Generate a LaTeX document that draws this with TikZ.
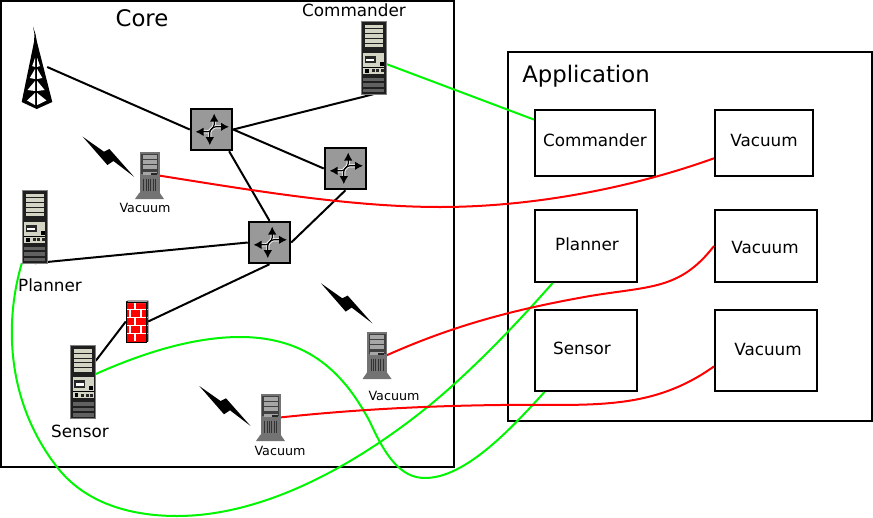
\documentclass[tikz,border=0pt]{standalone}
\usepackage{fontspec}
\setmainfont{DejaVu Sans}
\usetikzlibrary{arrows.meta}

\definecolor{linkgreen}{RGB}{0,245,0}
\definecolor{linkred}{RGB}{255,0,0}
\definecolor{panel}{RGB}{212,212,196}
\definecolor{routergray}{RGB}{153,153,153}

\tikzset{
    frame/.style={draw=black,line width=2pt,fill=none},
    link/.style={draw=black,line width=2pt},
    greenlink/.style={draw=linkgreen,line width=2pt},
    redlink/.style={draw=linkred,line width=2pt},
    bigsrv/.style={inner sep=0pt,minimum width=25pt,minimum height=73pt},
    smallsrv/.style={inner sep=0pt,minimum width=18pt,minimum height=47pt},
    routerbox/.style={inner sep=0pt,minimum size=41pt,draw=black,line width=2.5pt,fill=routergray},
    masttext/.style={inner sep=0pt,font=\fontsize{16.8}{20}\selectfont},
    bigtext/.style={inner sep=0pt,font=\fontsize{22.8}{26}\selectfont},
    smalltext/.style={inner sep=0pt,font=\fontsize{12.7}{15}\selectfont},
    bigserver/.pic={
        \fill[black!88] (-12.5,-36.5) rectangle (12.5,36.5);
        \draw[black!50,line width=.6pt] (-12.5,-36.5) rectangle (12.5,36.5);
        \foreach \y in {-33,-28.2,-23.4,-18.6,-13.8}
            \fill[panel] (-9,\y) rectangle (9,\y+3.7);
        \fill[panel] (-10.5,-5) rectangle (10.5,16);
        \fill[black!85] (-9,-2) rectangle (2,5.5);
        \fill[white] (-7.5,1) rectangle (.5,3.5);
        \fill[black] (6,4) rectangle (10,8);
        \fill[black] (-10.5,9) rectangle (10.5,10);
        \fill[black] (-8.5,11) rectangle (-5,15);
        \foreach \x in {-2,2.5,7}
            \fill[black!85] (\x,11.5) rectangle (\x+3,14.5);
        \foreach \y in {20,25.5,31}
            \fill[black!62] (-10.5,\y) rectangle (10.5,\y+3.5);
    },
    smallserver/.pic={
        \fill[black!55] (-10,17) -- (10,17) -- (14.5,23.5) -- (-14.5,23.5) -- cycle;
        \fill[black!55] (-10,-23.5) rectangle (10,17);
        \fill[black!75] (-8.5,-22) rectangle (8.5,-2);
        \foreach \y in {-21,-15.7,-10.4}
            \fill[black!35] (-7,\y) rectangle (7,\y+4);
        \fill[black!35] (-7,-3.5) rectangle (7,-.5);
        \fill[black!85] (1,-3) rectangle (7,-.5);
        \foreach \x in {-6,-3.6,...,6.5}
            \draw[black!80,line width=.7pt] (\x,3) -- (\x,15);
    },
    firewall/.pic={
        \fill[red!75!black] (7,-20.5) -- (11,-20.5) -- (11,20.5) -- (7,20.5) -- cycle;
        \fill[linkred] (-11,-18.5) rectangle (9,20.5);
        \fill[white] (-11,-20.5) -- (-9,-20.5) -- (-7,-20.5) -- (11,-20.5) -- (9,-18.5) -- (-11,-18.5) -- cycle;
        \foreach \y in {-12,-4,4,12}
            \draw[white,line width=1.3pt] (-11,\y) -- (11,\y);
        \foreach \y/\x in {-15/-2,-8/-7,-8/4,0/-2,8/-7,8/4,16/-2}
            \draw[white,line width=1.3pt] (\x,\y-3.5) -- (\x,\y+3.5);
        \draw[black,line width=.8pt] (-11,-19.5) rectangle (9,20.5);
        \draw[black,line width=.8pt] (-11,-19.5) -- (-9,-20.5) -- (11,-20.5) -- (11,19.5) -- (9,20.5);
    },
    router/.pic={
        \draw[white,line width=3pt] (2.7,-9) -- (2.7,-5) .. controls (2.7,-1) and (-1.7,-1) .. (-1.7,3) -- (-1.7,9);
        \draw[white,line width=3pt] (-9,2.3) -- (-4,2.3) .. controls (0,2.3) and (0,-2.7) .. (4,-2.7) -- (10,-2.7);
        \draw[black,line width=1.2pt,{Latex[length=8pt,width=8.5pt]}-{Latex[length=8pt,width=8.5pt]}]
            (2.7,-16) -- (2.7,-5) .. controls (2.7,-1) and (-1.7,-1) .. (-1.7,3) -- (-1.7,15.7);
        \draw[black,line width=1.2pt,{Latex[length=8pt,width=8.5pt]}-{Latex[length=8pt,width=8.5pt]}]
            (-16,2.3) -- (-4,2.3) .. controls (0,2.3) and (0,-2.7) .. (4,-2.7) -- (17.5,-2.7);
    },
    bolt/.pic={
        \fill[black] (0,0) -- (21.3,15) -- (26.7,12.3) -- (51.3,40) -- (30.7,24.3) -- (24.7,28.3) -- cycle;
    },
    tower/.pic={
        \fill[black] (-3,-40.5) -- (-.5,-33) -- (1,-25) -- (16.3,35) -- (.7,42) -- (-14.3,35) -- (-2,-25) -- (-1.5,-33) -- cycle;
        \foreach \a/\b/\w in {-9/0/2.8,2/12/5.2,14/24/7.5}{
            \fill[white] (1.2,\a) -- (1.2+\w,\b-1) -- (1.2,\b) -- cycle;
            \fill[white] (-1,\a) -- (-1-\w,\b-1) -- (-1,\b) -- cycle;
        }
        \fill[white] (1.2,26) -- (10.5,33.5) -- (1.2,38) -- cycle;
        \fill[white] (-1,26) -- (-9,33.5) -- (-1,38) -- cycle;
    },
}

\begin{document}
\begin{tikzpicture}[x=1pt,y=-1pt]
    \useasboundingbox (0,0) rectangle (873,517);

    % the two frames
    \node[frame,inner sep=0pt,minimum width=453pt,minimum height=466pt] (core) at (227.5,234) {};
    \node[frame,inner sep=0pt,minimum width=364pt,minimum height=369pt] (application) at (690,236.5) {};
    \node[bigtext] (coretitle) at (142,18) {Core};
    \node[bigtext] (apptitle) at (586,76) {Application};

    % boxes of the application
    \node[frame,inner sep=0pt,minimum width=120pt,minimum height=66pt] (commanderbox) at (595,143) {};
    \node[frame,inner sep=0pt,minimum width=98pt,minimum height=66pt] (vacuumboxa) at (764,143) {};
    \node[frame,inner sep=0pt,minimum width=102pt,minimum height=72pt] (plannerbox) at (586,246) {};
    \node[frame,inner sep=0pt,minimum width=102pt,minimum height=72pt] (vacuumboxb) at (766,246) {};
    \node[frame,inner sep=0pt,minimum width=102pt,minimum height=81pt] (sensorbox) at (586,350.5) {};
    \node[frame,inner sep=0pt,minimum width=102pt,minimum height=81pt] (vacuumboxc) at (766,350.5) {};

    \node[masttext] (commandertext) at (595,140) {Commander};
    \node[masttext] (vacuumtexta) at (764,140) {Vacuum};
    \node[masttext] (plannertext) at (587,244) {Planner};
    \node[masttext] (vacuumtextb) at (765,247.5) {Vacuum};
    \node[masttext] (sensortext) at (582,348) {Sensor};
    \node[masttext] (vacuumtextc) at (768,349.5) {Vacuum};

    % machines of the core
    \node[bigsrv] (commander) at (373.5,57.5) {};
    \node[bigsrv] (planner) at (34.5,226.5) {};
    \node[bigsrv] (sensor) at (83,382) {};
    \node[smallsrv] (vacuuma) at (149.5,175.5) {};
    \node[smallsrv] (vacuumb) at (377,355.5) {};
    \node[smallsrv] (vacuumc) at (270.5,417.5) {};
    \node[inner sep=0pt,minimum width=22pt,minimum height=82pt] (antenna) at (36,67) {};
    \node[inner sep=0pt,minimum width=22pt,minimum height=41pt] (wall) at (137,321.5) {};
    \node[routerbox] (routera) at (211.5,129.5) {};
    \node[routerbox] (routerb) at (345.5,168.5) {};
    \node[routerbox] (routerc) at (269.5,242.5) {};

    \node[masttext] (commanderlabel) at (354,10) {Commander};
    \node[masttext] (plannerlabel) at (50,285) {Planner};
    \node[masttext] (sensorlabel) at (80,431) {Sensor};
    \node[smalltext] (vacuumlabela) at (145,208) {Vacuum};
    \node[smalltext] (vacuumlabelb) at (394,396) {Vacuum};
    \node[smalltext] (vacuumlabelc) at (280,451) {Vacuum};

    % wired links
    \draw[link] (antenna.east) -- (routera.west);
    \draw[link] (routera.east) -- (commander.south);
    \draw[link] (routera.east) -- (routerb.west);
    \draw[link] (routera.-51) -- (routerc.north);
    \draw[link] (routerb.south) -- (routerc.east);
    \draw[link] (planner.south) -- (routerc.west);
    \draw[link] (routerc.south) -- (wall.east);
    \draw[link] (wall.west) -- (sensor.59);

    % links to the application
    \draw[greenlink] (commander.-27) -- (commanderbox.159);
    \draw[greenlink] (planner.south west) .. controls (5,320) and (5,400) .. (57,467)
        .. controls (85,503) and (130,516) .. (177,516)
        .. controls (260,516) and (350,470) .. (430,405)
        .. controls (475,368) and (520,320) .. (plannerbox.228);
    \draw[greenlink] (sensor.32) .. controls (145,352) and (195,337) .. (240,337)
        .. controls (310,337) and (345,375) .. (370,422)
        .. controls (385,455) and (400,478) .. (425,478)
        .. controls (465,478) and (510,430) .. (sensorbox.225);
    \draw[redlink] (vacuuma.east) .. controls (250,190) and (350,207) .. (440,207)
        .. controls (540,207) and (640,185) .. (vacuumboxa.197);
    \draw[redlink] (vacuumb.east) .. controls (450,327) and (510,310) .. (590,296)
        .. controls (650,286) and (680,290) .. (vacuumboxb.west);
    \draw[redlink] (vacuumc.east) .. controls (350,410) and (420,406) .. (500,405)
        .. controls (590,404) and (650,412) .. (vacuumboxc.197);

    % the icons
    \foreach \n in {commander,planner,sensor}
        \pic at (\n) {bigserver};
    \foreach \n in {vacuuma,vacuumb,vacuumc}
        \pic at (\n) {smallserver};
    \foreach \n in {routera,routerb,routerc}
        \pic at (\n) {router};
    \pic at (antenna) {tower};
    \pic at (wall) {firewall};
    \pic at (82.7,136.7) {bolt};
    \pic at (199.3,386) {bolt};
    \pic at (321,283.3) {bolt};
\end{tikzpicture}
\end{document}
